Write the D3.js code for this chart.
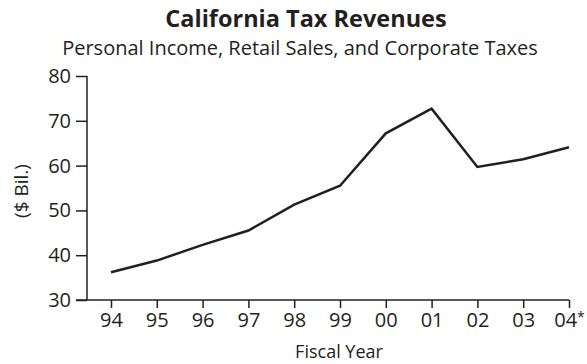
<!DOCTYPE html>
<html>
<head>
<meta charset="utf-8">
<script src="https://cdn.jsdelivr.net/npm/d3@7"></script>
<style>
  body { margin: 0; background: #fff; }
  text { font-family: "Open Sans", "Noto Sans", sans-serif; fill: #231f20; }
</style>
</head>
<body>
<script>
// data
var years = ["94", "95", "96", "97", "98", "99", "00", "01", "02", "03", "04"];
var revenue = [36.2, 38.8, 42.3, 45.5, 51.3, 55.5, 67.2, 72.7, 59.7, 61.4, 64.1];
var yTicks = [30, 40, 50, 60, 70, 80];

// canvas magic numbers
var w = 587;
var h = 364;
var yAxisX = 87;
var xAxisY = 300;

var svg = d3.select("body")
            .append("svg")
            .attr("width", w)
            .attr("height", h);

var xScale = d3.scalePoint()
               .domain(years)
               .range([111, 569]);

var yScale = d3.scaleLinear()
               .domain([30, 80])
               .range([xAxisY, 76]);

var ink = "#231f20";

// y axis
var yAxis = d3.axisLeft(yScale)
              .tickValues(yTicks)
              .tickSize(11)
              .tickPadding(5)
              .tickFormat(d3.format("d"));

var yG = svg.append("g")
            .attr("transform", "translate(" + yAxisX + ",0)")
            .call(yAxis);
yG.select(".domain").remove();
yG.append("line")
  .attr("x1", 0).attr("x2", 0)
  .attr("y1", yScale(80)).attr("y2", xAxisY)
  .attr("stroke", ink).attr("stroke-width", 1.5);

// x axis
var xAxis = d3.axisBottom(xScale)
              .tickSize(8)
              .tickPadding(5);

var xG = svg.append("g")
            .attr("transform", "translate(0," + xAxisY + ")")
            .call(xAxis);
xG.select(".domain").remove();
xG.append("line")
  .attr("x1", 76).attr("x2", xScale("04"))
  .attr("y1", 0).attr("y2", 0)
  .attr("stroke", ink).attr("stroke-width", 1.5);

svg.selectAll(".tick line").attr("stroke", ink).attr("stroke-width", 1.5);
svg.selectAll(".tick text")
   .style("font-size", "20px")
   .style("font-family", "\"Open Sans\", sans-serif")
   .attr("fill", ink);

// the last year is an estimate, marked with an asterisk
xG.selectAll(".tick text")
  .filter(function(d) { return d === "04"; })
  .append("tspan")
  .attr("dy", -5)
  .style("font-size", "14px")
  .text("*");

// line
var line = d3.line()
             .x(function(d, i) { return xScale(years[i]); })
             .y(function(d) { return yScale(d); });

svg.append("path")
   .datum(revenue)
   .attr("fill", "none")
   .attr("stroke", ink)
   .attr("stroke-width", 2.5)
   .attr("stroke-linejoin", "miter")
   .attr("d", line);

// titles
svg.append("text")
   .attr("x", 306)
   .attr("y", 27)
   .attr("text-anchor", "middle")
   .style("font-size", "23.5px")
   .style("font-weight", "bold")
   .text("California Tax Revenues");

svg.append("text")
   .attr("x", 300)
   .attr("y", 55)
   .attr("text-anchor", "middle")
   .style("font-size", "20px")
   .text("Personal Income, Retail Sales, and Corporate Taxes");

svg.append("text")
   .attr("transform", "translate(28,191) rotate(-90)")
   .attr("text-anchor", "middle")
   .style("font-size", "19px")
   .text("($ Bil.)");

svg.append("text")
   .attr("x", 339)
   .attr("y", 358)
   .attr("text-anchor", "middle")
   .style("font-size", "18px")
   .text("Fiscal Year");
</script>
</body>
</html>
